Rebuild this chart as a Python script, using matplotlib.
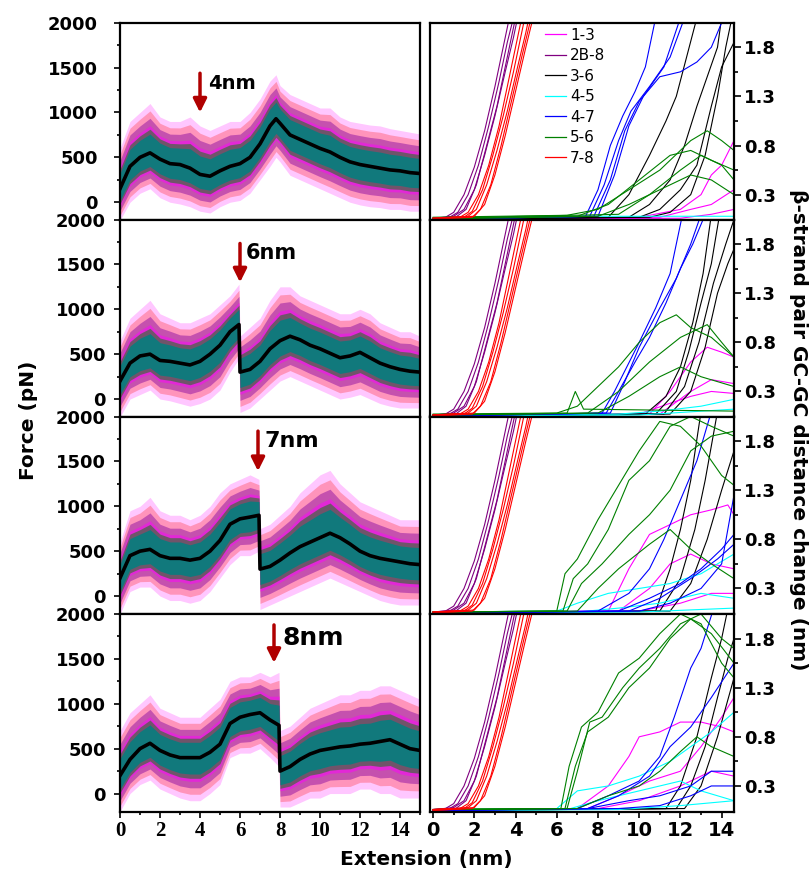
import matplotlib
matplotlib.use("Agg")
import matplotlib.pyplot as plt
from matplotlib.lines import Line2D
from matplotlib.ticker import MultipleLocator, FixedLocator

plt.rcParams['font.family'] = ['DejaVu Sans']

# ---------------- force traces (left column) ----------------
X1 = [0, 0.5, 1, 1.5, 2, 2.5, 3, 3.5, 4, 4.5, 5, 5.5, 6, 6.5, 7, 7.5, 7.8, 8, 8.5, 9,
      9.5, 10, 10.5, 11, 11.5, 12, 12.5, 13, 13.5, 14, 14.5, 15]
MEAN1 = [150, 400, 500, 550, 480, 430, 420, 380, 310, 290, 350, 400, 430, 500, 650, 850, 930,
         880, 750, 700, 650, 600, 560, 500, 450, 420, 400, 380, 360, 350, 330, 320]
HI1 = [600, 900, 1000, 1100, 950, 900, 900, 950, 850, 800, 850, 900, 900, 1000, 1150, 1350, 1420,
       1300, 1200, 1150, 1100, 1050, 1050, 950, 900, 880, 860, 850, 820, 800, 780, 760]
LO1 = [-200, 0, 100, 150, 50, 0, -20, -50, -100, -120, -50, 0, 20, 100, 250, 400, 500,
       450, 300, 250, 200, 150, 100, 50, 0, -30, -50, -60, -80, -80, -100, -100]

X2 = [0, 0.5, 1, 1.5, 2, 2.5, 3, 3.5, 4, 4.5, 5, 5.5, 5.95, 6.0, 6.5, 7, 7.5, 8, 8.5, 9,
      9.5, 10, 10.5, 11, 11.5, 12, 12.5, 13, 13.5, 14, 14.5, 15]
MEAN2 = [200, 400, 480, 500, 430, 420, 400, 380, 420, 500, 600, 750, 830, 300, 330, 420, 560,
         650, 700, 660, 600, 560, 510, 460, 480, 520, 460, 400, 360, 330, 310, 300]
HI2 = [650, 900, 1000, 1100, 950, 900, 850, 850, 900, 950, 1050, 1150, 1280, 700, 800, 900, 1100,
       1250, 1250, 1150, 1100, 1050, 1000, 950, 950, 1000, 950, 850, 800, 750, 750, 700]
LO2 = [-200, 0, 50, 100, 0, -20, -50, -80, -50, 0, 100, 300, 450, -150, -100, 0, 100,
       200, 250, 200, 150, 100, 50, 0, 20, 50, 0, -50, -80, -100, -100, -100]

X3 = [0, 0.5, 1, 1.5, 2, 2.5, 3, 3.5, 4, 4.5, 5, 5.5, 6, 6.5, 6.95, 7.0, 7.5, 8, 8.5, 9,
      9.5, 10, 10.5, 11, 11.5, 12, 12.5, 13, 13.5, 14, 14.5, 15]
MEAN3 = [200, 450, 500, 520, 450, 420, 420, 400, 420, 500, 620, 800, 860, 880, 900, 300, 330,
         400, 480, 550, 600, 650, 700, 650, 580, 500, 450, 420, 400, 380, 360, 350]
HI3 = [600, 950, 1000, 1100, 950, 900, 900, 850, 900, 1000, 1150, 1250, 1300, 1350, 1300, 750, 800,
       900, 1000, 1150, 1250, 1350, 1400, 1250, 1150, 1050, 1000, 950, 900, 850, 850, 850]
LO3 = [-200, 50, 100, 100, 0, -50, -50, -80, -50, 50, 200, 350, 450, 450, 500, -150, -100,
       -50, 0, 50, 100, 150, 200, 150, 100, 50, 0, -50, -80, -100, -100, -100]

X4 = [0, 0.5, 1, 1.5, 2, 2.5, 3, 3.5, 4, 4.5, 5, 5.5, 6, 6.5, 7, 7.5, 7.95, 8.0, 8.5, 9,
      9.5, 10, 10.5, 11, 11.5, 12, 12.5, 13, 13.5, 14, 14.5, 15]
MEAN4 = [200, 380, 500, 560, 480, 430, 400, 400, 400, 460, 550, 780, 850, 880, 900, 820, 760,
         250, 300, 380, 440, 480, 500, 520, 530, 550, 560, 580, 600, 550, 500, 480]
HI4 = [700, 900, 1000, 1100, 950, 900, 850, 850, 850, 950, 1050, 1250, 1300, 1300, 1350, 1300, 1350,
       700, 750, 850, 950, 1000, 1050, 1100, 1100, 1150, 1150, 1200, 1200, 1150, 1100, 1050]
LO4 = [-200, 0, 100, 150, 50, 0, -50, -80, -80, 0, 100, 400, 450, 450, 500, 400, 300,
       -150, -150, -100, -50, -50, 0, 0, 0, 50, 50, 0, 0, -50, -50, -50]

# rupture markers
ARROW_X = [4.0, 6.0, 6.9, 7.7]
ARROW_TAIL = [1437, 1733, 1837, 1878]
ARROW_TIP = [1000, 1300, 1392, 1456]
RUPTURE_LABELS = ["4nm", "6nm", "7nm", "8nm"]
LABEL_X = [4.4, 6.3, 7.2, 8.1]
LABEL_Y = [1322, 1622, 1722, 1733]

# ---------------- beta-strand pair distances (right column) ----------------
PAIRS = ["1-3", "2B-8", "3-6", "4-5", "4-7", "5-6", "7-8"]
PAIR_COLORS = ["#FF00FF", "#800080", "#000000", "#00FFFF", "#0000FF", "#008000", "#FF0000"]

# same in every panel
TRACES_2B8 = [
    [(0, 0.06), (0.6, 0.07), (1.0, 0.12), (1.5, 0.3), (2.0, 0.58), (2.5, 0.95), (3.0, 1.4), (3.4, 1.8), (3.7, 2.1)],
    [(0, 0.05), (0.8, 0.07), (1.2, 0.12), (1.7, 0.3), (2.2, 0.6), (2.7, 1.0), (3.2, 1.45), (3.6, 1.85), (3.9, 2.1)],
    [(0, 0.06), (1.0, 0.08), (1.5, 0.15), (2.0, 0.35), (2.5, 0.7), (3.0, 1.1), (3.5, 1.55), (3.9, 1.9), (4.1, 2.1)],
    [(0, 0.05), (1.1, 0.07), (1.6, 0.15), (2.1, 0.4), (2.6, 0.8), (3.1, 1.2), (3.6, 1.7), (4.0, 2.1)],
]
TRACES_78 = [
    [(0, 0.06), (1.3, 0.07), (1.7, 0.12), (2.2, 0.3), (2.7, 0.6), (3.2, 1.0), (3.7, 1.5), (4.1, 1.9), (4.3, 2.1)],
    [(0, 0.05), (1.5, 0.07), (1.9, 0.13), (2.4, 0.35), (2.9, 0.7), (3.4, 1.1), (3.9, 1.55), (4.3, 1.95), (4.45, 2.1)],
    [(0, 0.06), (1.7, 0.08), (2.1, 0.15), (2.6, 0.4), (3.1, 0.75), (3.6, 1.15), (4.1, 1.6), (4.5, 1.95), (4.65, 2.1)],
    [(0, 0.05), (1.9, 0.07), (2.3, 0.15), (2.8, 0.4), (3.3, 0.8), (3.8, 1.25), (4.3, 1.7), (4.7, 2.05), (4.8, 2.1)],
    [(0, 0.06), (2.0, 0.08), (2.5, 0.2), (3.0, 0.5), (3.5, 0.9), (4.0, 1.35), (4.5, 1.8), (4.85, 2.1)],
]

# one list per panel (top to bottom)
TRACES_13 = [
    [[(0, 0.05), (10, 0.07), (12, 0.15), (13, 0.3), (13.5, 0.5), (14.0, 0.6), (14.6, 0.85)],
     [(0, 0.05), (11, 0.07), (12.5, 0.15), (13.5, 0.2), (14.6, 0.35)],
     [(0, 0.05), (12, 0.06), (13.5, 0.1), (14.6, 0.15)]],
    [[(0, 0.05), (10.5, 0.07), (11.5, 0.3), (12.5, 0.6), (13.3, 0.75), (14, 0.7), (14.6, 0.65)],
     [(0, 0.05), (11, 0.07), (12.5, 0.3), (13.5, 0.42), (14.6, 0.38)],
     [(0, 0.05), (10, 0.07), (11.5, 0.18), (12.5, 0.25), (13.5, 0.3), (14.6, 0.28)]],
    [[(0, 0.05), (8.5, 0.07), (9.5, 0.5), (10.5, 0.85), (11.5, 0.95), (12.5, 1.05), (13.5, 1.1), (14.3, 1.15), (14.6, 1.05)],
     [(0, 0.05), (9, 0.07), (10.5, 0.3), (11.5, 0.55), (12.5, 0.65), (13.5, 0.55), (14.6, 0.5)],
     [(0, 0.05), (10, 0.07), (12, 0.15), (13.5, 0.25), (14.6, 0.25)]],
    [[(0, 0.05), (7.0, 0.07), (8.5, 0.3), (9.5, 0.6), (10.0, 0.8), (11.0, 0.85), (12.0, 0.95), (13.0, 0.95), (14.0, 0.9), (14.6, 0.85)],
     [(0, 0.05), (7.5, 0.07), (9.0, 0.2), (10.5, 0.35), (12, 0.45), (13, 0.7), (14, 1.0), (14.6, 1.2)],
     [(0, 0.05), (8, 0.07), (10, 0.15), (12, 0.3), (13.5, 0.45), (14.6, 0.4)]],
]
TRACES_36 = [
    [[(0, 0.05), (8.5, 0.07), (9.5, 0.3), (10.5, 0.7), (11.3, 1.05), (11.8, 1.3), (12.3, 1.7), (12.8, 2.1)],
     [(0, 0.05), (9.5, 0.07), (10.5, 0.2), (11.5, 0.45), (12.2, 0.8), (12.8, 1.2), (13.3, 1.5), (13.8, 1.8), (14.0, 2.1)],
     [(0, 0.05), (10.0, 0.07), (11.0, 0.15), (12.0, 0.35), (12.8, 0.6), (13.5, 1.2), (14.0, 1.6), (14.6, 1.85)],
     [(0, 0.05), (10.5, 0.07), (11.5, 0.12), (12.5, 0.3), (13.2, 0.7), (13.8, 1.3), (14.2, 1.8), (14.5, 2.1)]],
    [[(0, 0.05), (10.3, 0.07), (11.3, 0.25), (12.0, 0.55), (12.6, 1.0), (13.1, 1.5), (13.5, 2.1)],
     [(0, 0.05), (10.8, 0.07), (11.8, 0.3), (12.4, 0.7), (13.0, 1.2), (13.5, 1.6), (13.9, 2.1)],
     [(0, 0.05), (11.2, 0.07), (12.2, 0.35), (12.9, 0.8), (13.6, 1.4), (14.2, 1.8), (14.6, 2.05)],
     [(0, 0.05), (11.5, 0.07), (12.5, 0.3), (13.2, 0.75), (13.8, 1.3), (14.3, 1.6), (14.6, 1.75)]],
    [[(0, 0.05), (10.8, 0.07), (11.5, 0.5), (12.0, 0.9), (12.5, 1.4), (13.0, 2.1)],
     [(0, 0.05), (11.0, 0.07), (12.0, 0.4), (12.7, 0.9), (13.2, 1.4), (13.8, 2.1)],
     [(0, 0.05), (11.5, 0.07), (12.5, 0.35), (13.3, 0.8), (14.0, 1.3), (14.6, 1.7)]],
    [[(0, 0.05), (11.3, 0.07), (12.0, 0.3), (12.8, 0.8), (13.5, 1.4), (14.0, 1.8), (14.3, 2.1)],
     [(0, 0.05), (11.8, 0.07), (12.5, 0.3), (13.2, 0.7), (13.8, 1.2), (14.3, 1.6), (14.6, 1.8)],
     [(0, 0.05), (12.2, 0.07), (13.0, 0.3), (13.8, 0.8), (14.6, 1.4)]],
]
TRACES_45 = [
    [[(0, 0.06), (7, 0.08), (14.6, 0.08)]],
    [[(0, 0.06), (9, 0.07), (11, 0.1), (13, 0.15), (14.6, 0.22)],
     [(0, 0.05), (10, 0.06), (14.6, 0.12)]],
    [[(0, 0.06), (6.0, 0.07), (7.0, 0.15), (8.5, 0.25), (10, 0.3), (11.5, 0.35), (13, 0.45), (14.6, 0.65)],
     [(0, 0.05), (7, 0.06), (9, 0.1), (11, 0.15), (13, 0.25), (14.6, 0.2)],
     [(0, 0.05), (10, 0.06), (14.6, 0.1)]],
    [[(0, 0.06), (6.0, 0.07), (7.0, 0.25), (8.5, 0.3), (10.0, 0.4), (11.5, 0.55), (12.5, 0.7), (13.5, 0.85), (14.6, 1.05)],
     [(0, 0.05), (6.5, 0.06), (8, 0.15), (10, 0.25), (12, 0.35), (13, 0.25), (14.6, 0.15)],
     [(0, 0.05), (9, 0.06), (12, 0.1), (14.6, 0.15)]],
]
TRACES_47 = [
    [[(0, 0.05), (7.4, 0.08), (8.0, 0.35), (8.6, 0.8), (9.2, 1.1), (9.8, 1.35), (10.3, 1.6), (10.8, 2.1)],
     [(0, 0.05), (7.6, 0.08), (8.3, 0.4), (9.0, 0.85), (9.6, 1.15), (10.5, 1.4), (11.5, 1.7), (12.2, 2.1)],
     [(0, 0.05), (7.8, 0.08), (8.6, 0.45), (9.3, 0.95), (10.0, 1.25), (11, 1.5), (12, 1.55), (12.8, 1.65), (13.5, 1.8), (14.1, 2.1)],
     [(0, 0.05), (8.0, 0.08), (8.8, 0.5), (9.5, 1.0), (10.2, 1.3), (11.2, 1.6), (12.0, 2.1)]],
    [[(0, 0.05), (8.2, 0.08), (8.8, 0.3), (9.4, 0.55), (10.0, 0.8), (10.8, 1.15), (11.5, 1.5), (12.1, 2.1)],
     [(0, 0.05), (8.4, 0.08), (9.0, 0.3), (9.8, 0.6), (10.5, 0.85), (11.3, 1.2), (12.0, 1.55), (12.6, 1.8), (13.2, 2.1)],
     [(0, 0.05), (8.6, 0.08), (9.2, 0.35), (10.0, 0.75), (11.0, 1.15), (11.8, 1.45), (12.5, 1.8), (13.0, 2.1)]],
    [[(0, 0.05), (8, 0.07), (9.5, 0.25), (10.5, 0.5), (11.2, 0.8), (12, 1.2), (12.8, 1.6), (13.5, 2.1)],
     [(0, 0.05), (9, 0.07), (10.5, 0.2), (12, 0.35), (13, 0.5), (14, 0.7), (14.6, 0.85)],
     [(0, 0.05), (10, 0.07), (11.5, 0.15), (13, 0.3), (14, 0.55), (14.6, 1.25)],
     [(0, 0.05), (9.5, 0.07), (11, 0.2), (12.5, 0.4), (13.8, 0.6), (14.6, 0.75)]],
    [[(0, 0.05), (7, 0.07), (8.5, 0.2), (10, 0.35), (11, 0.6), (11.7, 1.0), (12.5, 1.5), (13.0, 1.7), (13.6, 2.1)],
     [(0, 0.05), (7.5, 0.07), (9, 0.2), (10.5, 0.4), (11.5, 0.7), (12.5, 0.9), (13.5, 1.2), (14.6, 1.55)],
     [(0, 0.05), (7.5, 0.07), (9.5, 0.15), (11, 0.2), (12.5, 0.3), (13.5, 0.45), (14.6, 0.45)],
     [(0, 0.05), (9, 0.07), (11, 0.1), (12.5, 0.2), (13.5, 0.3), (14.6, 0.3)]],
]
TRACES_56 = [
    [[(0, 0.07), (6.5, 0.09), (8.0, 0.15), (9.5, 0.35), (11, 0.55), (12.5, 0.85), (13.3, 0.95), (14.0, 0.85), (14.6, 0.75)],
     [(0, 0.06), (7.0, 0.08), (8.5, 0.2), (10, 0.45), (11.5, 0.7), (12.5, 0.75), (13.5, 0.65), (14.6, 0.55)],
     [(0, 0.05), (8, 0.08), (9.5, 0.2), (11, 0.35), (12.5, 0.5), (13.5, 0.45), (14.6, 0.3)],
     [(0, 0.06), (9, 0.1), (10.5, 0.3), (12, 0.55), (13, 0.7), (14, 0.6), (14.6, 0.45)]],
    [[(0, 0.07), (6.0, 0.08), (7.0, 0.15), (8.0, 0.35), (9.0, 0.55), (10.0, 0.8), (11.0, 1.0), (11.8, 1.08), (12.5, 0.95), (13.5, 0.85), (14.6, 0.65)],
     [(0, 0.06), (7.5, 0.08), (9, 0.3), (10.5, 0.6), (12, 0.85), (13.3, 0.98), (14, 0.8), (14.6, 0.65)],
     [(0, 0.06), (8, 0.08), (9.5, 0.25), (11, 0.45), (12, 0.55), (13, 0.45), (14.6, 0.35)],
     [(0, 0.06), (6.5, 0.08), (6.9, 0.3), (7.3, 0.12), (14.6, 0.1)]],
    [[(0, 0.06), (6.0, 0.07), (6.4, 0.45), (7.0, 0.6), (8.0, 1.0), (9.0, 1.35), (10.0, 1.7), (11.0, 2.0), (12.0, 1.95), (13.0, 1.75), (14.0, 1.45), (14.6, 1.35)],
     [(0, 0.06), (6.3, 0.07), (6.8, 0.4), (7.5, 0.55), (8.5, 0.9), (9.5, 1.4), (10.5, 1.6), (11.5, 1.95), (12.5, 2.05), (13.5, 1.95), (14.6, 1.85)],
     [(0, 0.06), (6.5, 0.07), (7.2, 0.35), (8.2, 0.55), (9.5, 0.85), (10.5, 1.05), (11.5, 1.3), (12.5, 1.7), (13.5, 1.85), (14.6, 1.9)],
     [(0, 0.06), (7, 0.07), (8, 0.3), (9, 0.5), (10.5, 0.75), (11.5, 0.9), (12.5, 0.7), (13.5, 0.55), (14.6, 0.4)]],
    [[(0, 0.06), (6.2, 0.07), (6.6, 0.5), (7.2, 0.9), (8.0, 1.05), (9.0, 1.45), (10.0, 1.6), (11.0, 1.85), (12.0, 2.05), (13.0, 1.95), (14.0, 1.55), (14.6, 1.4)],
     [(0, 0.06), (6.4, 0.07), (6.9, 0.5), (7.5, 0.85), (8.5, 1.0), (9.5, 1.3), (10.5, 1.5), (11.5, 1.8), (12.5, 2.0), (13.5, 1.85), (14.6, 1.55)],
     [(0, 0.06), (7.0, 0.07), (8.5, 0.2), (10, 0.3), (11, 0.45), (12, 0.65), (12.8, 0.8), (13.5, 0.7), (14.6, 0.6)],
     [(0, 0.06), (6.5, 0.07), (7.0, 0.45), (7.6, 0.95), (8.2, 1.0), (9.2, 1.3), (10.0, 1.5), (11.0, 1.7), (12.0, 1.95), (13.0, 2.05), (14.0, 1.8), (14.6, 1.7)]],
]

FORCE = [(X1, MEAN1, HI1, LO1), (X2, MEAN2, HI2, LO2), (X3, MEAN3, HI3, LO3), (X4, MEAN4, HI4, LO4)]

# ---------------- layout ----------------
W, H = 810, 871
fig = plt.figure(figsize=(W / 100, H / 100), dpi=100)
ROW_TOP = [22.7, 219.5, 416.5, 614.0]
ROW_H = 197.5


def px_axes(x0, x1, top):
    return fig.add_axes([x0 / W, 1 - (top + ROW_H) / H, (x1 - x0) / W, ROW_H / H])


# colour layers for the noisy force band: (colour, fraction of envelope, alpha)
BAND_LAYERS = [("#FF00FF", 1.0, 0.22), ("#FF2020", 0.85, 0.3), ("#8000A0", 0.7, 0.45),
               ("#FF00FF", 0.55, 0.5), ("#008000", 0.48, 0.5), ("#008080", 0.38, 0.85)]
LABEL_SIZES = [14, 15, 16, 18]

for i in range(4):
    last = i == 3
    # ---- left: force ----
    ax = px_axes(120, 420, ROW_TOP[i])
    x, mean, hi, lo = FORCE[i]
    for col, f, a in BAND_LAYERS:
        up = [m + f * (h - m) for m, h in zip(mean, hi)]
        dn = [m - f * (m - l) for m, l in zip(mean, lo)]
        ax.fill_between(x, dn, up, color=col, alpha=a, lw=0)
    ax.plot(x, mean, color="black", lw=2.6)
    ax.annotate("", xy=(ARROW_X[i], ARROW_TIP[i]), xytext=(ARROW_X[i], ARROW_TAIL[i]),
                arrowprops=dict(arrowstyle="-|>", color="#B00000", lw=2.5,
                                mutation_scale=20, shrinkA=0, shrinkB=0))
    ax.text(LABEL_X[i], LABEL_Y[i], RUPTURE_LABELS[i], fontsize=LABEL_SIZES[i],
            fontweight="bold", va="center", ha="left")
    ax.set_xlim(0, 15)
    ax.set_ylim(-200, 2000)
    ax.yaxis.set_major_locator(FixedLocator([0, 500, 1000, 1500, 2000]))
    ax.yaxis.set_minor_locator(MultipleLocator(250))
    ax.tick_params(axis="y", which="both", direction="out", right=False, width=1.2,
                   labelsize=13, pad=12 if i == 0 else 6)
    ax.tick_params(axis="y", which="major", length=4)
    ax.tick_params(axis="y", which="minor", length=2.5)
    for lab in ax.get_yticklabels():
        lab.set_fontweight("bold")
    if last:
        ax.xaxis.set_major_locator(MultipleLocator(2))
        ax.xaxis.set_minor_locator(MultipleLocator(1))
        ax.tick_params(axis="x", which="both", direction="out", top=False, width=1.2, pad=3)
        ax.tick_params(axis="x", which="major", length=4)
        ax.tick_params(axis="x", which="minor", length=2.5)
        for lab in ax.get_xticklabels():
            lab.set_fontfamily("Liberation Serif")
            lab.set_fontweight("bold")
            lab.set_fontsize(15)
    else:
        ax.tick_params(axis="x", which="both", bottom=False, top=False, labelbottom=False)
    for sp in ax.spines.values():
        sp.set_linewidth(1.6)

    # ---- right: distances ----
    ax2 = px_axes(430, 734, ROW_TOP[i])
    panel = [TRACES_13[i], TRACES_2B8, TRACES_36[i], TRACES_45[i],
             TRACES_47[i], TRACES_56[i], TRACES_78]
    for traces, col in zip(panel, PAIR_COLORS):
        for tr in traces:
            xs, ys = zip(*tr)
            ax2.plot(xs, ys, color=col, lw=0.8)
    ax2.set_xlim(-0.15, 14.6)
    ax2.set_ylim(0.04, 2.05)
    ax2.yaxis.tick_right()
    ax2.yaxis.set_major_locator(FixedLocator([0.3, 0.8, 1.3, 1.8]))
    ax2.yaxis.set_minor_locator(FixedLocator([0.55, 1.05, 1.55]))
    ax2.tick_params(axis="y", which="both", direction="out", left=False, width=1.2,
                    labelsize=13, pad=2)
    ax2.tick_params(axis="y", which="major", length=5)
    ax2.tick_params(axis="y", which="minor", length=3)
    for lab in ax2.get_yticklabels():
        lab.set_fontweight("bold")
    if last:
        ax2.xaxis.set_major_locator(MultipleLocator(2))
        ax2.xaxis.set_minor_locator(MultipleLocator(1))
        ax2.tick_params(axis="x", which="both", direction="out", top=False, width=1.2,
                        labelsize=14, pad=3)
        ax2.tick_params(axis="x", which="major", length=4)
        ax2.tick_params(axis="x", which="minor", length=2.5)
        for lab in ax2.get_xticklabels():
            lab.set_fontweight("bold")
    else:
        ax2.tick_params(axis="x", which="both", bottom=False, top=False, labelbottom=False)
    for sp in ax2.spines.values():
        sp.set_linewidth(1.6)

    if i == 0:
        handles = [Line2D([], [], color=c, lw=0.9) for c in PAIR_COLORS]
        ax2.legend(handles, PAIRS, loc="upper left", bbox_to_anchor=(0.378, 0.975),
                   frameon=False, fontsize=11, handlelength=1.4, handletextpad=0.25,
                   labelspacing=0.36, borderpad=0, borderaxespad=0)

fig.text(0.035, 0.517, "Force (pN)", rotation=90, ha="center", va="center",
         fontsize=14.5, fontweight="bold")
fig.text(0.526, 0.0135, "Extension (nm)", ha="center", va="center",
         fontsize=14.5, fontweight="bold")
fig.text(0.986, 0.507, "β-strand pair GC-GC distance change (nm)", rotation=270,
         ha="center", va="center", fontsize=14.5, fontweight="bold")

fig.savefig("out.png", dpi=100)
